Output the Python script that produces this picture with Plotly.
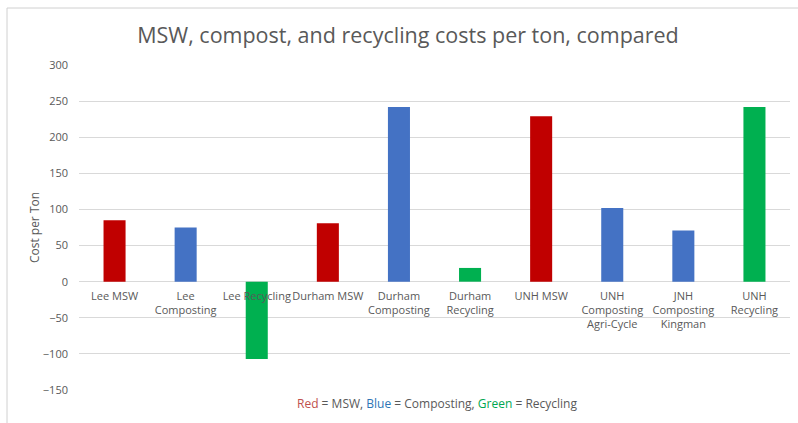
import plotly.graph_objects as go

categories = [
    "Lee MSW", "Lee<br>Composting", "Lee Recycling", "Durham MSW",
    "Durham<br>Composting", "Durham<br>Recycling", "UNH MSW",
    "UNH<br>Composting<br>Agri-Cycle", "JNH<br>Composting<br>Kingman",
    "UNH<br>Recycling",
]
costs = [85, 75, -107, 81, 242, 19, 229, 102, 71, 242]
kinds = ["MSW", "Composting", "Recycling", "MSW", "Composting", "Recycling",
         "MSW", "Composting", "Composting", "Recycling"]
kind_colors = {"MSW": "#C00000", "Composting": "#4472C4", "Recycling": "#00B050"}
y_ticks = [-150, -100, -50, 0, 50, 100, 150, 200, 250, 300]

W, H = 798, 423
L, R, T, B = 79, 8, 65, 33
pw, ph = W - L - R, H - T - B
ymin, ymax = -150, 300

fig = go.Figure(go.Bar(
    x=categories, y=costs,
    marker=dict(color=[kind_colors[k] for k in kinds], line=dict(width=0)),
    width=0.31,
))

grey = "#595959"
fig.update_layout(
    width=W, height=H,
    margin=dict(l=L, r=R, t=T, b=B, autoexpand=False),
    paper_bgcolor="white", plot_bgcolor="white",
    font=dict(family="Open Sans", color=grey, size=11),
    showlegend=False,
    title=dict(text="MSW, compost, and recycling costs per ton, compared",
               x=(408) / W, xanchor="center", y=1 - 35 / H, yanchor="middle",
               font=dict(family="Open Sans", size=21.5, color=grey)),
    xaxis=dict(
        anchor="free", position=(0 - ymin) / (ymax - ymin),
        showgrid=False, showline=False, zeroline=False, ticks="",
        tickfont=dict(size=11, color=grey), automargin=False,
        tickangle=0, ticklabelstandoff=6,
    ),
    yaxis=dict(
        range=[ymin, ymax], tickvals=y_ticks,
        showgrid=True, gridcolor="#D9D9D9", gridwidth=1,
        zeroline=True, zerolinecolor="#D9D9D9", zerolinewidth=1,
        showline=False, ticks="", ticklabelstandoff=10,
        tickfont=dict(size=11, color=grey), automargin=False,
        title=dict(text="Cost per Ton", standoff=0, font=dict(size=12, color=grey)),
    ),
    annotations=[dict(
        xref="paper", yref="paper",
        x=(437 - L) / pw, y=(H - B - 403) / ph, xanchor="center", yanchor="middle",
        showarrow=False, font=dict(size=12, color=grey),
        text=("<span style='color:#C0504D'>Red</span> = MSW, "
              "<span style='color:#2E75B6'>Blue</span> = Composting, "
              "<span style='color:#00A651'>Green</span> = Recycling"),
    )],
    shapes=[
        dict(type="line", xref="paper", yref="paper", layer="below",
             x0=(7 - L) / pw, x1=(W - L) / pw,
             y0=(H - B - 8) / ph, y1=(H - B - 8) / ph,
             line=dict(color="#D0D0D0", width=1)),
        dict(type="line", xref="paper", yref="paper", layer="below",
             x0=(7 - L) / pw, x1=(7 - L) / pw,
             y0=(H - B - 8) / ph, y1=(H - B - H) / ph,
             line=dict(color="#D0D0D0", width=1)),
    ],
)

fig.write_html("out.html")
